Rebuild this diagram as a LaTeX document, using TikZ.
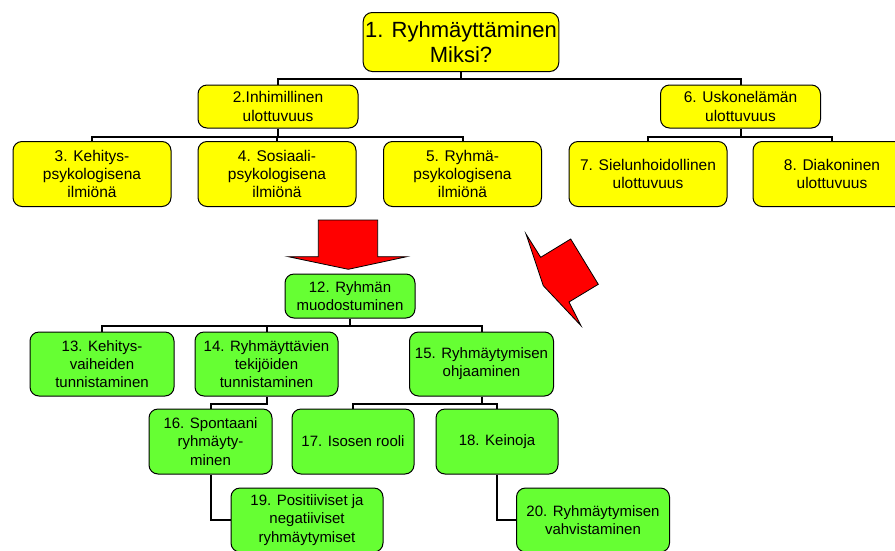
\documentclass[tikz,border=0pt]{standalone}
\usepackage{fontspec}
\setmainfont{Liberation Sans}
\usetikzlibrary{positioning}
\definecolor{boxyellow}{HTML}{FFFF00}
\definecolor{boxgreen}{HTML}{66FF33}

\begin{document}
\begin{tikzpicture}
		[x=1pt, y=-1pt,
		topnode/.style={rectangle, rounded corners=9pt, draw=black, fill=boxyellow, line width=1pt, align=center, inner sep=2pt, font=\fontsize{22}{25}\selectfont},
		yellownode/.style={rectangle, rounded corners=9pt, draw=black, fill=boxyellow, line width=1pt, align=center, inner sep=2pt, font=\fontsize{15.5}{18.4}\selectfont},
		greennode/.style={rectangle, rounded corners=9pt, draw=black, fill=boxgreen, line width=1pt, align=center, inner sep=2pt, font=\fontsize{15}{18.2}\selectfont},
		link/.style={draw=black, line width=2pt},
		bigarrow/.style={draw=black, fill=red, line width=0.8pt},
		]
		\useasboundingbox (0,0) rectangle (895,550);
		\clip (0,0) rectangle (895,550);
		
		%Nodes
		\node[topnode, minimum width=195pt, minimum height=59pt](miksi) at (461,42) {1. Ryhmäyttäminen\\Miksi?};
		\node[yellownode, minimum width=160pt, minimum height=43pt](inhim) at (278,106.5) {2.Inhimillinen\\ulottuvuus};
		\node[yellownode, minimum width=160pt, minimum height=43pt](usko) at (740.5,106.5) {6. Uskonelämän\\ulottuvuus};
		\node[yellownode, minimum width=158pt, minimum height=65pt](kehpsy) at (92,174) {3. Kehitys-\\psykologisena\\ilmiönä};
		\node[yellownode, minimum width=158pt, minimum height=65pt](sospsy) at (277,174) {4. Sosiaali-\\psykologisena\\ilmiönä};
		\node[yellownode, minimum width=158pt, minimum height=65pt](ryhpsy) at (462.5,174) {5. Ryhmä-\\psykologisena\\ilmiönä};
		\node[yellownode, minimum width=158pt, minimum height=65pt](sielu) at (648,174) {7. Sielunhoidollinen\\ulottuvuus};
		\node[yellownode, minimum width=158pt, minimum height=65pt](diakon) at (832,174) {8. Diakoninen\\ulottuvuus};
		
		\node[greennode, minimum width=130pt, minimum height=44pt](muodos) at (350,296) {12. Ryhmän\\muodostuminen};
		\node[greennode, minimum width=144pt, minimum height=64pt](vaiheet) at (102,364) {13. Kehitys-\\vaiheiden\\tunnistaminen};
		\node[greennode, minimum width=143pt, minimum height=64pt](tekijat) at (266.5,364) {14. Ryhmäyttävien\\tekijöiden\\tunnistaminen};
		\node[greennode, minimum width=144pt, minimum height=64pt](ohjaus) at (481.5,364) {15. Ryhmäytymisen\\ohjaaminen};
		\node[greennode, minimum width=123pt, minimum height=65pt](spontaani) at (210.5,441.5) {16. Spontaani\\ryhmäyty-\\minen};
		\node[greennode, minimum width=122pt, minimum height=65pt](isonen) at (353,441.5) {17. Isosen rooli};
		\node[greennode, minimum width=122pt, minimum height=65pt](keinot) at (497,441.5) {18. Keinoja};
		\node[greennode, minimum width=152pt, minimum height=64pt](posneg) at (307,520) {19. Positiiviset ja\\negatiiviset\\ryhmäytymiset};
		\node[greennode, minimum width=153pt, minimum height=64pt](vahvist) at (593,520) {20. Ryhmäytymisen\\vahvistaminen};
		
		%Lines
		\draw[link](miksi.south) -- ++(0,6.5) -| (inhim.north);
		\draw[link](miksi.south) -- ++(0,6.5) -| (usko.north);
		\draw[link](inhim.south) -- ++(0,8) -| (kehpsy.north);
		\draw[link](inhim.south) -- ++(0,8) -| (sospsy.north);
		\draw[link](inhim.south) -- ++(0,8) -| (ryhpsy.north);
		\draw[link](usko.south) -- ++(0,8) -| (sielu.north);
		\draw[link](usko.south) -- ++(0,8) -| (diakon.north);
		\draw[link](muodos.south) -- ++(0,7) -| (vaiheet.north);
		\draw[link](muodos.south) -- ++(0,7) -| (tekijat.north);
		\draw[link](muodos.south) -- ++(0,7) -| (ohjaus.north);
		\draw[link](tekijat.south) -- ++(0,7) -| (spontaani.north);
		\draw[link](ohjaus.south) -- ++(0,7) -| (isonen.north);
		\draw[link](ohjaus.south) -- ++(0,7) -| (keinot.north);
		\draw[link](spontaani.south) |- (posneg.west);
		\draw[link](keinot.south) |- (vahvist.west);
		
		%Arrows
		\draw[bigarrow] (318.3,220) -- (377.7,220) -- (377.7,256.7) -- (406.7,256.7) -- (348.3,269.3) -- (288.3,256.7) -- (318.3,256.7) -- cycle;
		\draw[bigarrow] (526,234) -- (540.7,257.3) -- (570.7,239) -- (598.3,284.3) -- (569,302) -- (581,325.7) -- (543.3,285.7) -- cycle;
	\end{tikzpicture}
\end{document}
